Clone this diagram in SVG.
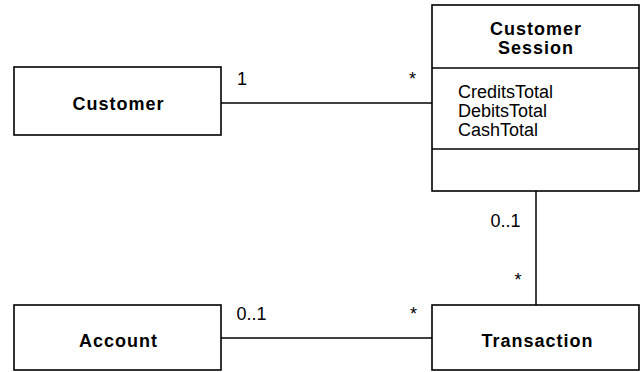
<svg xmlns="http://www.w3.org/2000/svg" width="641" height="372" viewBox="0 0 641 372">
  <style>
    .box { fill: #ffffff; stroke: #000000; stroke-width: 1.6; }
    .sep { stroke: #000000; stroke-width: 1.6; }
    .edge { stroke: #000000; stroke-width: 1.5; fill: none; }
    .name { font-family: "Liberation Sans", Arial, sans-serif; font-size: 18px; font-weight: bold; letter-spacing: 1px; text-anchor: middle; fill: #000000; }
    .attr { font-family: "Liberation Sans", Arial, sans-serif; font-size: 18px; fill: #000000; }
    .mult { font-family: "Liberation Sans", Arial, sans-serif; font-size: 18px; fill: #000000; }
  </style>
  <rect width="641" height="372" fill="#ffffff"/>

  <!-- associations with their multiplicities -->
  <g id="connectors">
    <line class="edge" x1="221" y1="103" x2="432" y2="103"/>
    <line class="edge" x1="221" y1="338" x2="432" y2="338"/>
    <line class="edge" x1="536" y1="191" x2="536" y2="305"/>
    <text class="mult" x="237" y="84.5">1</text>
    <text class="mult" x="409" y="85">*</text>
    <text class="mult" x="490.5" y="226.7">0..1</text>
    <text class="mult" x="514.5" y="285.5">*</text>
    <text class="mult" x="236.5" y="320">0..1</text>
    <text class="mult" x="410" y="320">*</text>
  </g>

  <g id="customer">
    <rect class="box" x="14" y="67" width="207" height="68"/>
    <text class="name" x="118.5" y="110">Customer</text>
  </g>

  <g id="customer-session">
    <rect class="box" x="432" y="5" width="207" height="186"/>
    <line class="sep" x1="432" y1="68" x2="639" y2="68"/>
    <line class="sep" x1="432" y1="149" x2="639" y2="149"/>
    <text class="name" x="536" y="35">Customer</text>
    <text class="name" x="536" y="54">Session</text>
    <text class="attr" x="458" y="97.7">CreditsTotal</text>
    <text class="attr" x="458" y="116.7">DebitsTotal</text>
    <text class="attr" x="458" y="135.7">CashTotal</text>
  </g>

  <g id="account">
    <rect class="box" x="14" y="305" width="207" height="65"/>
    <text class="name" x="118.5" y="346.7">Account</text>
  </g>

  <g id="transaction">
    <rect class="box" x="432" y="305" width="207" height="65"/>
    <text class="name" x="537.5" y="346.7">Transaction</text>
  </g>
</svg>
